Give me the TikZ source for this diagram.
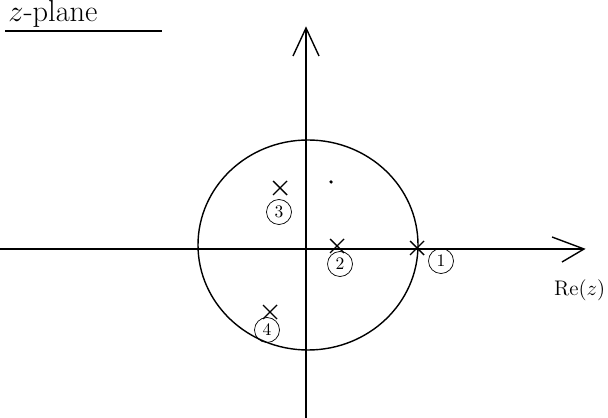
\documentclass[tikz,border=0pt]{standalone}
\usetikzlibrary{positioning,calc}

\tikzset{
  pole/.style={thick},
  numlabel/.style={draw,circle,inner sep=2pt,minimum size=0.5cm,font=\normalsize},
}

\begin{document}
\begin{tikzpicture}[x=0.02cm,y=-0.02cm]
\useasboundingbox (0,0) rectangle (608,418);
% title
\node[anchor=base west,font=\LARGE,inner sep=0pt] (title) at (8,22) {$z$-plane};
\draw[thick] (5,31) -- (162,31);
% axes
\coordinate (xl) at (0,249);
\coordinate (xr) at (584,249);
\coordinate (yb) at (306,418);
\coordinate (yt) at (306,28);
\draw[thick] (xl) -- (xr);
\draw[thick] (552,237) -- (xr) -- (562,262);
\draw[thick] (yb) -- (yt);
\draw[thick] (293,56) -- (yt) -- (319,56);
\node[font=\large,anchor=west] (re) at (548,290) {Re($z$)};
% unit circle
\draw[thick] (308,245) ellipse [x radius=110, y radius=105];
\fill (331,182) circle (1pt);
% poles
\foreach \n/\px/\py/\lx/\ly in {1/417/248/441/261, 2/337/246/340/264, 3/280/188/279/212, 4/270/312/267/330}{
  \coordinate (p\n) at (\px,\py);
  \draw[pole] ($(p\n)+(-7,-7)$) -- ($(p\n)+(7,7)$) ($(p\n)+(-7,7)$) -- ($(p\n)+(7,-7)$);
  \node[numlabel] (l\n) at (\lx,\ly) {\n};
}
\end{tikzpicture}
\end{document}
